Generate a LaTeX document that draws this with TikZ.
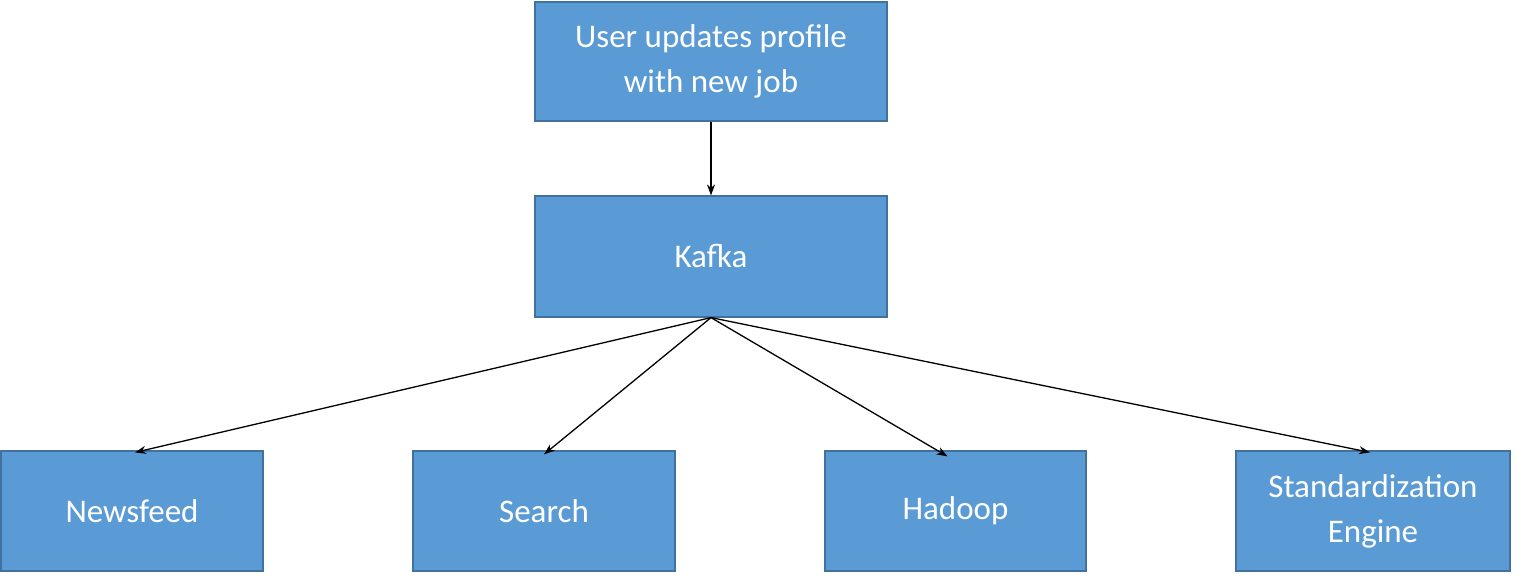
\documentclass[tikz,border=0pt]{standalone}
\usepackage{fontspec}
\setmainfont{Carlito}
\usetikzlibrary{arrows.meta}
\definecolor{boxfill}{HTML}{5B9BD5}
\definecolor{boxline}{HTML}{41719C}
\begin{document}
\begin{tikzpicture}[x=1pt,y=-1pt,
  box/.style={draw=boxline,line width=1.2pt,fill=boxfill,text=white,inner sep=0pt,align=center,font=\fontsize{33}{45}\selectfont},
  conn/.style={-{Stealth[length=11pt,width=8pt]},line width=1.3pt}]
\useasboundingbox (0,0) rectangle (1524,580);
\node[box,minimum width=352pt,minimum height=119pt] (user) at (711,61.5) {User updates profile\\with new job};
\node[box,minimum width=352pt,minimum height=121pt] (kafka) at (711,256.5) {Kafka};
\node[box,minimum width=262pt,minimum height=120pt] (news) at (132,511) {Newsfeed};
\node[box,minimum width=262pt,minimum height=120pt] (search) at (544,511) {Search};
\node[box,minimum width=261pt,minimum height=120pt] (hadoop) at (955.5,511) {Hadoop};
\node[box,minimum width=274pt,minimum height=120pt] (std) at (1373,511) {Standardization\\Engine};
\draw[conn] (user.south) -- (kafka.north);
\draw[conn] (kafka.south) -- ([xshift=3pt,yshift=-2pt]news.north);
\draw[conn] (kafka.south) -- ([yshift=-4pt]search.north);
\draw[conn] (kafka.south) -- ([xshift=-8pt,yshift=-6pt]hadoop.north);
\draw[conn] (kafka.south) -- ([xshift=-3pt,yshift=-2pt]std.north);
\end{tikzpicture}
\end{document}
